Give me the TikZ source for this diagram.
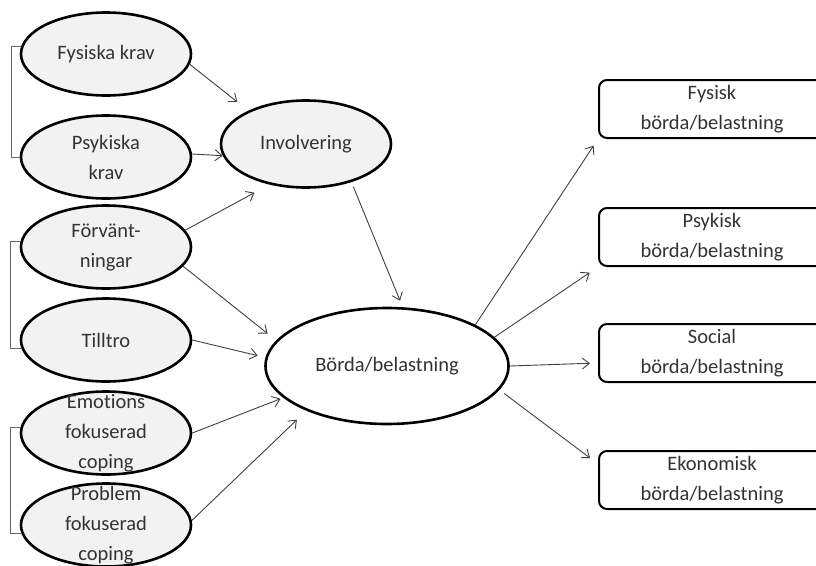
\documentclass[tikz,border=0pt]{standalone}
\usepackage{fontspec}
\setmainfont{Carlito}[Ligatures=NoCommon]
\usetikzlibrary{shapes.geometric,arrows.meta}

\tikzset{
  oval/.style={ellipse, draw=black, line width=2.6pt, fill=black!5,
    minimum width=170pt, minimum height=83pt, inner sep=0pt, align=center},
  outbox/.style={rectangle, rounded corners=8pt, draw=black, line width=2pt,
    fill=white, minimum width=226pt, minimum height=58pt, inner sep=0pt, align=center},
  link/.style={draw=black!75, line width=0.9pt, -{Straight Barb[length=7pt,width=11pt]}},
  pairline/.style={draw=black!60, line width=0.9pt},
}

\begin{document}
\begin{tikzpicture}[x=1pt, y=-1pt, font={\fontsize{20.5}{30}\selectfont}, text=black!80]
% Page frame, right boxes run off the edge
\useasboundingbox (0,0) rectangle (816,565);
\clip (0,0) rectangle (816,565);
% Left column
\node[oval] (fys) at (106,54) {Fysiska krav};
\node[oval] (psy) at (106,157) {Psykiska\\krav};
\node[oval] (forv) at (106,247) {Förvänt-\\ningar};
\node[oval] (till) at (106,340) {Tilltro};
\node[oval, label={[name=emot, align=center]center:Emotions\\fokuserad\\coping}] (emo) at (106,433) {};
\node[oval, label={[name=probt, align=center]center:Problem\\fokuserad\\coping}] (prob) at (106,525) {};
% Middle
\node[oval, minimum height=87pt] (inv) at (306,144) {Involvering};
\node[oval, fill=white, minimum width=243pt, minimum height=116pt] (borda) at (387,366) {Börda/belastning};
% Right column
\node[outbox] (fysb) at (712,109) {Fysisk\\börda/belastning};
\node[outbox] (psyb) at (712,237) {Psykisk\\börda/belastning};
\node[outbox] (socb) at (712,353) {Social\\börda/belastning};
\node[outbox] (ekb) at (712,480) {Ekonomisk\\börda/belastning};
% Brackets joining pairs
\draw[pairline] (fys.175) -- ++(-10,0) |- (psy.west);
\draw[pairline] (forv.176) -- ++(-10,0) |- (till.186);
\draw[pairline] (emo.176) -- ++(-10,0) |- (prob.186);
% Arrows into Involvering
\draw[link, shorten >=14pt] (fys.-7) -- (inv.150);
\draw[link] (psy.2) -- (inv.188);
\draw[link, shorten >=17pt] (forv.12) -- (inv.228);
% Arrows into Börda/belastning
\draw[link, shorten >=11pt] (forv.-14) -- (borda.167);
\draw[link, shorten >=8pt] (till.east) -- (borda.176);
\draw[link, shorten >=3pt] (emo.east) -- (borda.197);
\draw[link, shorten >=13pt] (prob.3) -- (borda.209);
\draw[link, shorten <=5pt, shorten >=7pt] (inv.-40) -- (borda.75);
% Arrows out to the boxes
\draw[link, shorten >=8pt] (borda.25) -- (fysb.south west);
\draw[link, shorten >=10pt] (borda.15) -- (psyb.south west);
\draw[link, shorten >=8pt] (borda.east) -- (socb.185);
\draw[link, shorten <=6pt, shorten >=10pt] (borda.-12) -- (ekb.172);
\end{tikzpicture}
\end{document}
